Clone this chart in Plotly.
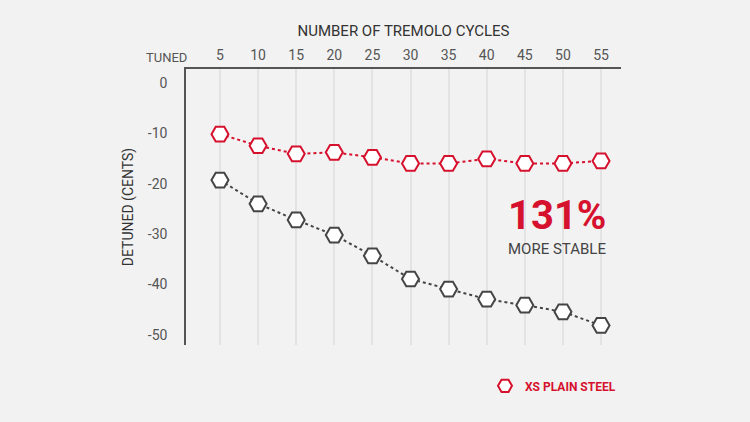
import plotly.graph_objects as go

cycles = [5, 10, 15, 20, 25, 30, 35, 40, 45, 50, 55]
xs_plain_steel = [-10.2, -12.5, -14.1, -13.8, -14.8, -16.0, -16.0, -15.1, -16.0, -16.0, -15.5]
standard_steel = [-19.3, -24.0, -27.2, -30.2, -34.3, -38.9, -40.9, -42.9, -44.1, -45.4, -48.1]
y_ticks = [0, -10, -20, -30, -40, -50]

RED = "#d6112e"
GRAY = "#454545"
FONT = "Roboto"
BG = "#f2f2f2"

fig = go.Figure()
fig.add_trace(go.Scatter(
    x=cycles, y=standard_steel, mode="lines+markers", showlegend=False,
    line=dict(color=GRAY, width=2, dash="dot"),
    marker=dict(symbol="hexagon2", size=17, color="white", line=dict(color=GRAY, width=2)),
))
fig.add_trace(go.Scatter(
    x=cycles, y=xs_plain_steel, mode="lines+markers", showlegend=False,
    line=dict(color=RED, width=2, dash="dot"),
    marker=dict(symbol="hexagon2", size=17, color="white", line=dict(color=RED, width=2)),
))
fig.add_trace(go.Scatter(
    x=[None], y=[None], mode="markers", name="XS PLAIN STEEL",
    marker=dict(symbol="hexagon2", size=14, color="white", line=dict(color=RED, width=2)),
))

fig.update_layout(
    width=750, height=422,
    margin=dict(l=186, r=129, t=69, b=77),
    paper_bgcolor=BG, plot_bgcolor="rgba(0,0,0,0)",
    font=dict(family=FONT, color="#555"),
    xaxis=dict(
        side="top", range=[0.54, 57.62], tickvals=cycles,
        ticktext=[str(c) for c in cycles],
        showgrid=True, gridcolor="#e3e3e3", gridwidth=2,
        showline=True, linecolor="#555", linewidth=1.5,
        zeroline=False, ticks="", ticklabelstandoff=2,
        tickfont=dict(size=14, color="#555", family=FONT),
        title=dict(text="NUMBER OF TREMOLO CYCLES", font=dict(size=15, color="#333", family=FONT), standoff=6),
    ),
    yaxis=dict(
        range=[-51.98, 2.71], tickvals=y_ticks,
        ticktext=[str(v) if v == 0 else "-" + str(-v) for v in y_ticks],
        showgrid=False, showline=True, linecolor="#555", linewidth=1.5,
        zeroline=False, ticks="", ticklabelstandoff=14,
        tickfont=dict(size=14, color="#555", family=FONT),
        title=dict(text="DETUNED (CENTS)", font=dict(size=14, color="#333", family=FONT), standoff=11),
    ),
    legend=dict(
        x=1.0, xanchor="right", y=-0.148, yanchor="middle",
        font=dict(size=12, color=RED, family=FONT, weight="bold"),
        bgcolor="rgba(0,0,0,0)",
    ),
    annotations=[
        dict(text="TUNED", xref="paper", yref="paper", x=-0.0437, y=1.0, yshift=12,
             xanchor="center", yanchor="middle", showarrow=False,
             font=dict(size=13, color="#555", family=FONT)),
        dict(text="131%", xref="x", yref="y", x=49.2, y=-26.4, xanchor="center", yanchor="middle",
             showarrow=False, font=dict(size=40, color=RED, family=FONT, weight="bold")),
        dict(text="MORE STABLE", xref="x", yref="y", x=49.2, y=-32.9, xanchor="center", yanchor="middle",
             showarrow=False, font=dict(size=15, color="#444", family=FONT)),
    ],
)

fig.write_html(
    "out.html",
    config={"displayModeBar": False},
    post_script="document.body.style.margin='0';document.body.style.background='" + BG + "';",
)
